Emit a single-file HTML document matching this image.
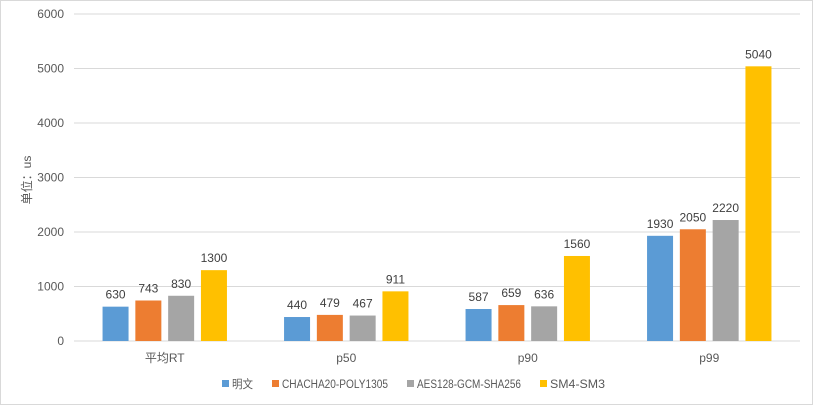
<!DOCTYPE html>
<html><head><meta charset="utf-8"><style>
body{margin:0;background:#fff}
svg{display:block;font-family:"Liberation Sans","Noto Sans CJK SC",sans-serif}
</style></head><body>
<svg id="c" width="813" height="405">
<rect x="0.5" y="0.5" width="812" height="404" fill="#fff" stroke="#d9d9d9"/>
<g id="grid"></g><g id="bars"></g><g id="labels"></g>
<text x="31" y="180" transform="rotate(-90 31 180)" text-anchor="middle" font-size="12" fill="#595959">单位：us</text>
<g id="legend"></g>
</svg>
<script>
const categories=["平均RT","p50","p90","p99"];
const seriesNames=["明文","CHACHA20-POLY1305","AES128-GCM-SHA256","SM4-SM3"];
const s1=[630,440,587,1930];
const s2=[743,479,659,2050];
const s3=[830,467,636,2220];
const s4=[1300,911,1560,5040];
const yTicks=[0,1000,2000,3000,4000,5000,6000];
const colors=["#5b9bd5","#ed7d31","#a5a5a5","#ffc000"];
const series=[s1,s2,s3,s4];
const NS="http://www.w3.org/2000/svg";
const x0=74,x1=800,y0=341,yTop=14,ymax=6000;
const y=v=>y0-(v/ymax)*(y0-yTop);
const gw=(x1-x0)/categories.length;
const bw=26,step=32.8;
function mk(t,a,p){const e=document.createElementNS(NS,t);for(const k in a)e.setAttribute(k,a[k]);p.appendChild(e);return e;}
const G=document.getElementById('grid'),B=document.getElementById('bars'),L=document.getElementById('labels'),LG=document.getElementById('legend');
yTicks.forEach(t=>{
 const l=mk('line',{x1:x0,x2:x1,y1:y(t),y2:y(t),stroke:'#d9d9d9','stroke-width':1},G);
 
 
 const tx=mk('text',{x:64,y:y(t)+4,'text-anchor':'end','font-size':12,fill:'#595959'},G);
 tx.textContent=t;
 
 
});
categories.forEach((c,i)=>{
 const cx=x0+gw*(i+0.5);
 const t=mk('text',{x:cx,y:362,'text-anchor':'middle','font-size':12,fill:'#595959'},L);
 t.textContent=c;
 
 
 series.forEach((s,j)=>{
  const bx=cx-1.5*step+j*step-bw/2;
  const r=mk('rect',{x:bx,y:y(s[i]),width:bw,height:y0-y(s[i]),fill:colors[j]},B);
  
  
  const v=mk('text',{x:bx+bw/2,y:y(s[i])-8,'text-anchor':'middle','font-size':12,fill:'#404040'},L);
  v.textContent=s[i];
  
  
 });
});
const lx=[222,272,407,540];
const lw=[21,106,104,55];
seriesNames.forEach((n,j)=>{
 const r=mk('rect',{x:lx[j],y:380,width:7,height:7,fill:colors[j]},LG);
 
 
 const t=mk('text',{x:lx[j]+10,y:388,'font-size':11.5,fill:'#595959',textLength:lw[j],lengthAdjust:'spacingAndGlyphs'},LG);
 t.textContent=n;
 
 
});
</script>
</body></html>
